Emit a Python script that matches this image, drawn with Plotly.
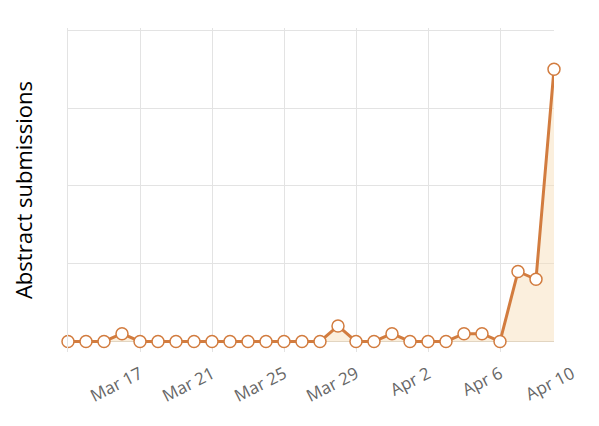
import datetime as dt
import plotly.graph_objects as go

start = dt.date(2021, 3, 13)
values = [0, 0, 0, 1, 0, 0, 0, 0, 0, 0, 0, 0, 0, 0, 0, 2, 0, 0, 1, 0, 0, 0, 1, 1, 0, 9, 8, 35]
dates = [start + dt.timedelta(days=i) for i in range(len(values))]
tick_dates = [dt.date(2021, 3, 17) + dt.timedelta(days=4 * i) for i in range(7)]
tick_text = [d.strftime("%b ") + str(d.day) for d in tick_dates]
y_title = "Abstract submissions"

line_color = "#d27c3f"
fill_color = "rgba(246, 220, 180, 0.45)"
grid_color = "#e3e3e3"
font_family = "Open Sans, Noto Sans, sans-serif"

last = dates[-1]
label_end = tick_dates[-1]
span_main = (last - start).days
span_all = (label_end - start).days
y_range = [-1.35, 40.3]

fig = go.Figure()
fig.add_trace(go.Scatter(
    x=dates, y=values, mode="lines+markers",
    line=dict(color=line_color, width=3),
    fill="tozeroy", fillcolor=fill_color,
    marker=dict(size=12, color="white", line=dict(color=line_color, width=1.5)),
    showlegend=False, hoverinfo="x+y", cliponaxis=False,
))
# helper trace so the label-only axis pair is drawn
fig.add_trace(go.Scatter(
    x=tick_dates, y=[None] * len(tick_dates), xaxis="x2", yaxis="y2",
    mode="lines", showlegend=False, hoverinfo="skip",
))

fig.update_layout(
    width=599, height=426,
    margin=dict(l=60, r=35, t=20, b=82),
    paper_bgcolor="white", plot_bgcolor="rgba(0,0,0,0)",
    font=dict(family=font_family),
    xaxis=dict(
        domain=[0, span_main / span_all],
        anchor="y",
        range=[start, last],
        type="date",
        tick0=start, dtick=4 * 86400000,
        showticklabels=False, ticks="",
        showgrid=True, gridcolor=grid_color, gridwidth=1,
        zeroline=False, showline=False,
    ),
    yaxis=dict(
        anchor="x",
        range=y_range,
        dtick=10, tick0=0,
        showticklabels=False, ticks="",
        showgrid=True, gridcolor=grid_color, gridwidth=1,
        zeroline=True, zerolinecolor="#dcd3c6", zerolinewidth=1,
        showline=True, linecolor=grid_color, linewidth=1,
        title=dict(text=y_title, font=dict(size=22, color="black", family=font_family), standoff=28),
    ),
    xaxis2=dict(
        domain=[0, 1],
        anchor="y2",
        range=[start, label_end],
        type="date",
        tickmode="array", tickvals=tick_dates, ticktext=tick_text,
        tickangle=-27,
        tickfont=dict(size=17, color="#666666", family=font_family),
        ticklabelstandoff=8,
        ticks="",
        showgrid=False, zeroline=False, showline=False,
    ),
    yaxis2=dict(
        domain=[0, 1],
        anchor="x2",
        range=y_range,
        showticklabels=False, ticks="",
        showgrid=False, zeroline=False, showline=False,
    ),
)

fig.write_html("out.html")
